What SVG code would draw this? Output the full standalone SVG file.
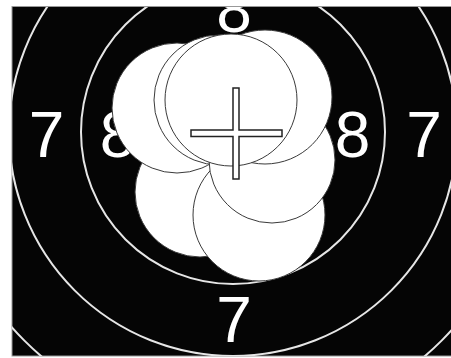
<svg xmlns="http://www.w3.org/2000/svg" width="451" height="358" viewBox="0 0 451 358">
<style>
.ring{fill:none;stroke:#e6e6e6;stroke-width:2}
.num{font-family:"Liberation Sans",Arial,sans-serif;font-size:64px;fill:#ffffff;text-anchor:middle}
.hole{fill:#ffffff;stroke:#3a3a3a;stroke-width:1}
.cross{fill:#ffffff;stroke:#222222;stroke-width:1.5}
</style>
<defs>
<clipPath id="clip"><rect x="12" y="7" width="439" height="349"/></clipPath>
</defs>
<rect x="0" y="0" width="451" height="358" fill="#ffffff"/>
<rect id="board" x="12" y="6.5" width="440" height="349.5" fill="#050505" stroke="#999999" stroke-width="1"/>
<g clip-path="url(#clip)">
<g id="rings">
<circle class="ring" cx="233" cy="132" r="152"/>
<circle class="ring" cx="233" cy="132" r="224"/>
<circle class="ring" cx="233" cy="132" r="295"/>
</g>
<g id="numbers">
<text class="num" x="46.5" y="157">7</text>
<text class="num" x="424" y="157">7</text>
<text class="num" x="117.5" y="157">8</text>
<text class="num" x="352.5" y="157">8</text>
<text class="num" x="234" y="32">8</text>
<text class="num" x="234" y="342">7</text>
</g>
<g id="holes">
<circle id="holeF" class="hole" cx="200" cy="192" r="65"/>
<circle id="holeA" class="hole" cx="177" cy="108" r="65"/>
<circle id="holeB" class="hole" cx="219" cy="100" r="65"/>
<circle id="holeG" class="hole" cx="259" cy="215" r="66"/>
<circle id="holeE" class="hole" cx="272" cy="160" r="63"/>
<circle id="holeD" class="hole" cx="265" cy="97" r="67"/>
<circle id="holeC" class="hole" cx="231" cy="100" r="66"/>
</g>
<g id="crosshair">
<path class="cross" d="M233,88 H239 V130 H282 V136.5 H239 V179 H233 V136.5 H191 V130 H233 Z"/>
</g>
</g>
</svg>
